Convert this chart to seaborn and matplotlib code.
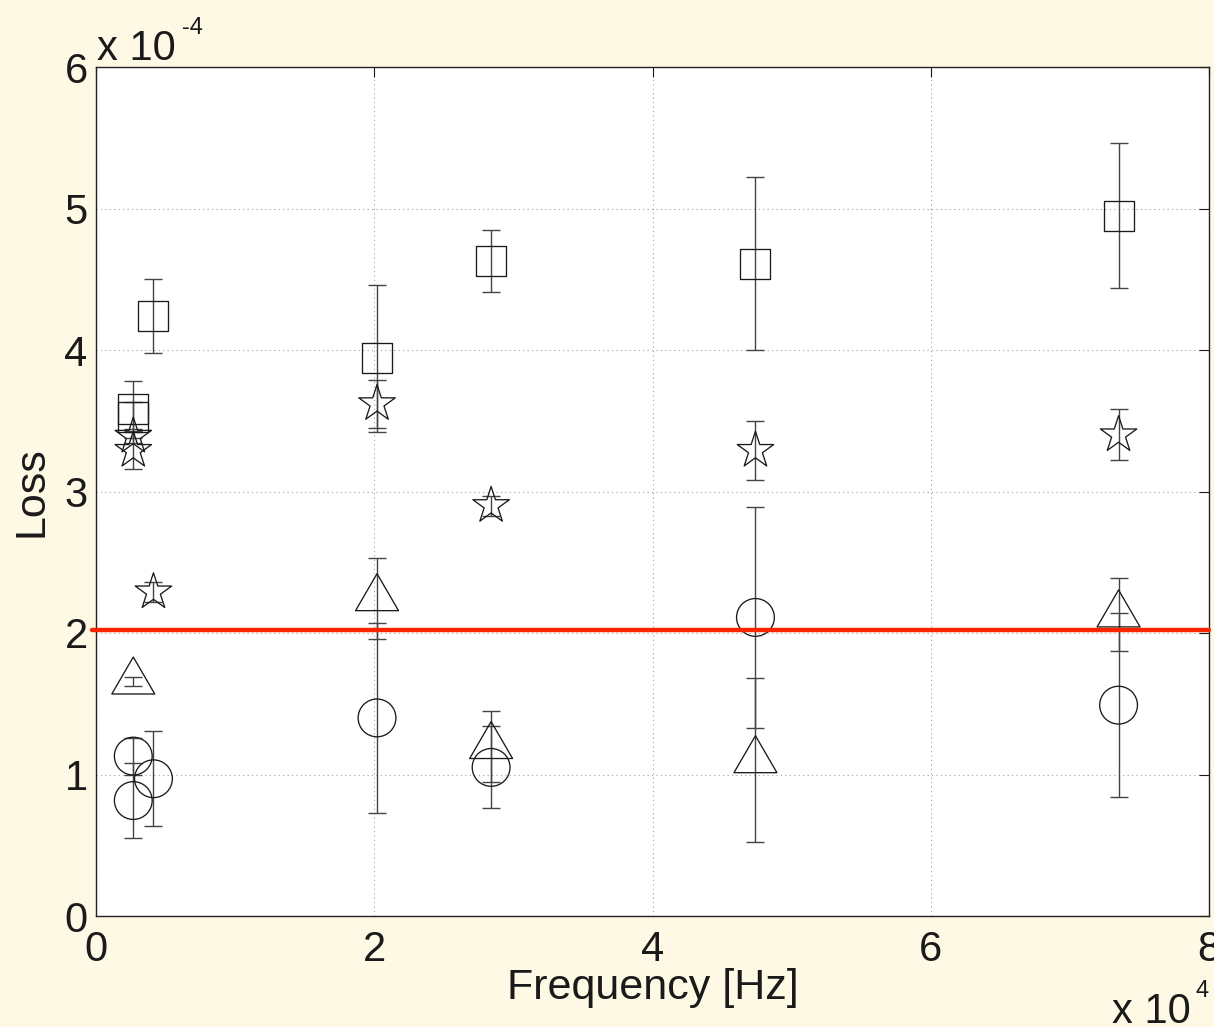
import numpy as np
import pandas as pd
import matplotlib
matplotlib.use("Agg")
import matplotlib.pyplot as plt
from matplotlib.path import Path
from matplotlib.ticker import FuncFormatter, FixedLocator
import seaborn as sns

# Loss measurements (value and symmetric error) per sample type
sq_freq = [2680, 2680, 4130, 20200, 28400, 47400, 73500]
sq_loss = [3.58e-4, 3.53e-4, 4.24e-4, 3.94e-4, 4.63e-4, 4.61e-4, 4.95e-4]
sq_err = [0.20e-4, 0.10e-4, 0.26e-4, 0.52e-4, 0.22e-4, 0.61e-4, 0.51e-4]

star_freq = [2680, 2680, 4130, 20200, 28400, 47400, 73500]
star_loss = [3.39e-4, 3.29e-4, 2.29e-4, 3.62e-4, 2.90e-4, 3.29e-4, 3.40e-4]
star_err = [0.05e-4, 0.13e-4, 0.07e-4, 0.17e-4, 0.07e-4, 0.21e-4, 0.18e-4]

tri_freq = [2680, 20200, 28400, 47400, 73500]
tri_loss = [1.656e-4, 2.245e-4, 1.20e-4, 1.10e-4, 2.13e-4]
tri_err = [0.03e-4, 0.285e-4, 0.25e-4, 0.58e-4, 0.26e-4]

circ_freq = [2680, 2680, 4130, 20200, 28400, 47400, 73500]
circ_loss = [1.13e-4, 0.816e-4, 0.97e-4, 1.40e-4, 1.05e-4, 2.11e-4, 1.49e-4]
circ_err = [0.13e-4, 0.267e-4, 0.335e-4, 0.67e-4, 0.29e-4, 0.78e-4, 0.65e-4]

threshold = 2.02e-4

x_ticks = [0, 20000, 40000, 60000, 80000]
y_ticks = [0, 1e-4, 2e-4, 3e-4, 4e-4, 5e-4, 6e-4]

sns.set_style("white")
plt.rcParams["font.family"] = ["Liberation Sans", "DejaVu Sans"]

W, H = 1214, 1027
fig = plt.figure(figsize=(W / 100, H / 100), dpi=100)
fig.patch.set_facecolor("#FDF9E4")
ax = fig.add_axes([96 / W, 1 - 916 / H, (1209 - 96) / W, (916 - 67) / H])
ax.set_facecolor("white")

# triangle outline whose centroid sits on the data point
tri_path = Path([(0.0, 24.67), (-21.5, -12.33), (21.5, -12.33), (0.0, 24.67)],
                [Path.MOVETO, Path.LINETO, Path.LINETO, Path.CLOSEPOLY])

series = [
    (sq_freq, sq_loss, sq_err, "s", 21.6),
    (star_freq, star_loss, star_err, "*", 27.6),
    (tri_freq, tri_loss, tri_err, tri_path, 35.5),
    (circ_freq, circ_loss, circ_err, "o", 27.2),
]

for freq, loss, err, marker, size in series:
    df = pd.DataFrame({"freq": freq, "loss": loss, "err": err})
    ax.errorbar(df["freq"], df["loss"], yerr=df["err"], fmt="none",
                ecolor="#444444", elinewidth=1.0, capsize=6.8, capthick=1.0,
                zorder=2)
    sns.scatterplot(data=df, x="freq", y="loss", marker=marker, s=size ** 2,
                    facecolor="none", edgecolor="#1a1a1a", linewidth=0.95,
                    ax=ax, zorder=3, legend=False)

ax.axhline(threshold, xmin=-0.004, xmax=1.0, color="#FF2400", lw=3.2,
           clip_on=False, zorder=4)

ax.set_xlim(0, 80000)
ax.set_ylim(0, 6e-4)
ax.xaxis.set_major_locator(FixedLocator(x_ticks))
ax.yaxis.set_major_locator(FixedLocator(y_ticks))
ax.xaxis.set_major_formatter(FuncFormatter(lambda v, _: f"{v / 1e4:g}"))
ax.yaxis.set_major_formatter(FuncFormatter(lambda v, _: f"{round(v / 1e-4, 6):g}"))

ax.grid(True, linestyle=(0, (1, 3)), color="#a0a0a0", linewidth=0.8)
ax.tick_params(direction="in", length=7, width=0.8, top=True, right=True,
               labelsize=30, colors="#1a1a1a", pad=6)
ax.tick_params(axis="x", pad=10)
for sp in ax.spines.values():
    sp.set_visible(True)
    sp.set_color("#222222")
    sp.set_linewidth(1.0)

ax.set_xlabel("Frequency [Hz]", fontsize=31, color="#1a1a1a", labelpad=-1)
ax.set_ylabel("Loss", fontsize=31, color="#1a1a1a", labelpad=9)

# axis multipliers
fig.text(97 / W, 1 - 60 / H, "x 10", fontsize=30, color="#1a1a1a",
         ha="left", va="baseline")
fig.text(182 / W, 1 - 34 / H, "-4", fontsize=17, color="#1a1a1a",
         ha="left", va="baseline")
fig.text(1112 / W, 1 - 1023 / H, "x 10", fontsize=30, color="#1a1a1a",
         ha="left", va="baseline")
fig.text(1196 / W, 1 - 997 / H, "4", fontsize=17, color="#1a1a1a",
         ha="left", va="baseline")

fig.savefig("out.png", dpi=100, facecolor=fig.get_facecolor())
